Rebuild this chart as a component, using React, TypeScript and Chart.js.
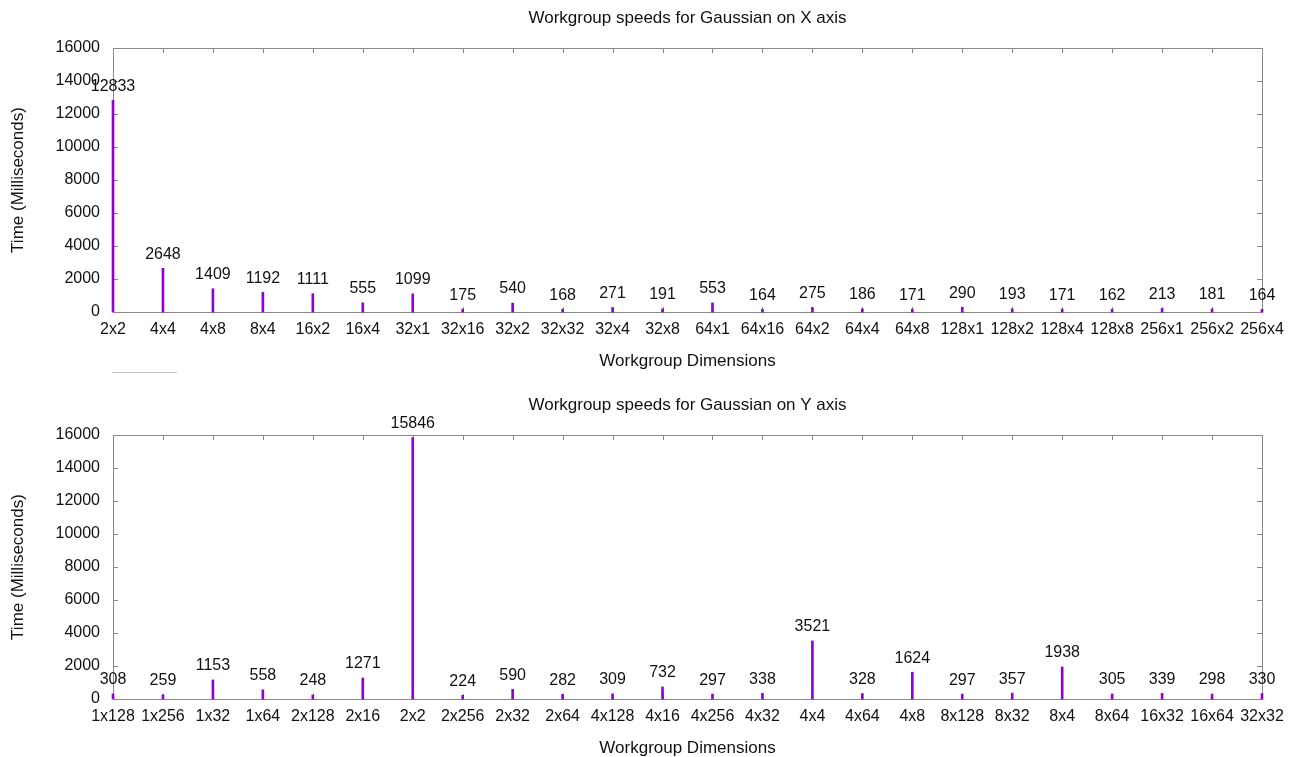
import React, { useEffect, useRef } from "react";
import { Chart, registerables } from "chart.js";

Chart.register(...registerables);

const xCategories = ["2x2", "4x4", "4x8", "8x4", "16x2", "16x4", "32x1", "32x16", "32x2", "32x32", "32x4", "32x8", "64x1", "64x16", "64x2", "64x4", "64x8", "128x1", "128x2", "128x4", "128x8", "256x1", "256x2", "256x4"];
const xTimes = [12833, 2648, 1409, 1192, 1111, 555, 1099, 175, 540, 168, 271, 191, 553, 164, 275, 186, 171, 290, 193, 171, 162, 213, 181, 164];

const yCategories = ["1x128", "1x256", "1x32", "1x64", "2x128", "2x16", "2x2", "2x256", "2x32", "2x64", "4x128", "4x16", "4x256", "4x32", "4x4", "4x64", "4x8", "8x128", "8x32", "8x4", "8x64", "16x32", "16x64", "32x32"];
const yTimes = [308, 259, 1153, 558, 248, 1271, 15846, 224, 590, 282, 309, 732, 297, 338, 3521, 328, 1624, 297, 357, 1938, 305, 339, 298, 330];

const yTickValues = [0, 2000, 4000, 6000, 8000, 10000, 12000, 14000, 16000];

const FONT = "'Liberation Sans', Arial, sans-serif";
const TEXT = "#111";
const BORDER = "#8a8a8a";
const BAR = "#9400d3";

const framePlugin = {
  id: "frame",
  beforeDatasetsDraw(chart: any) {
    const { ctx, chartArea } = chart;
    const { left, right, top, bottom } = chartArea;
    ctx.save();
    ctx.strokeStyle = BORDER;
    ctx.lineWidth = 1;
    ctx.strokeRect(left + 0.5, top + 0.5, right - left, bottom - top);
    const xs = chart.scales.x;
    const ys = chart.scales.y;
    ctx.beginPath();
    xs.ticks.forEach((_t: any, i: number) => {
      const px = Math.round(xs.getPixelForTick(i)) + 0.5;
      ctx.moveTo(px, top);
      ctx.lineTo(px, top + 5);
      ctx.moveTo(px, bottom);
      ctx.lineTo(px, bottom - 5);
    });
    ys.ticks.forEach((_t: any, i: number) => {
      const py = Math.round(ys.getPixelForTick(i)) + 0.5;
      ctx.moveTo(left, py);
      ctx.lineTo(left + 5, py);
      ctx.moveTo(right, py);
      ctx.lineTo(right - 5, py);
    });
    ctx.stroke();
    ctx.restore();
  },
};

const labelPlugin = {
  id: "valueLabels",
  afterDatasetsDraw(chart: any) {
    const { ctx } = chart;
    const meta = chart.getDatasetMeta(0);
    const data = chart.data.datasets[0].data as number[];
    ctx.save();
    ctx.font = `16px ${FONT}`;
    ctx.fillStyle = TEXT;
    ctx.textAlign = "center";
    ctx.textBaseline = "middle";
    meta.data.forEach((el: any, i: number) => {
      ctx.fillText(String(data[i]), el.x, el.y - 14);
    });
    ctx.restore();
  },
};

function GaussChart({ title, categories, values }: { title: string; categories: string[]; values: number[] }) {
  const ref = useRef<HTMLCanvasElement>(null);
  useEffect(() => {
    if (!ref.current) return;
    const chart = new Chart(ref.current, {
      type: "bar",
      data: {
        labels: categories,
        datasets: [
          {
            data: values,
            backgroundColor: BAR,
            borderWidth: 0,
            barThickness: 2,
            clip: false as any,
          },
        ],
      },
      options: {
        animation: false,
        responsive: false,
        maintainAspectRatio: false,
        layout: { padding: { top: 0, left: 0, right: 32, bottom: 0 } },
        plugins: {
          legend: { display: false },
          tooltip: { enabled: false },
          title: { display: false },
        },
        scales: {
          x: {
            type: "category",
            offset: false,
            grid: { display: false, offset: false, drawTicks: false },
            border: { display: false },
            ticks: {
              color: TEXT,
              font: { family: FONT, size: 16 },
              padding: 8,
              autoSkip: false,
              maxRotation: 0,
            },
            title: {
              display: true,
              text: "Workgroup Dimensions",
              color: TEXT,
              font: { family: FONT, size: 17 },
              padding: { top: 0, bottom: 8.8 },
            },
            afterFit(scale: any) {
              scale.height = 68;
            },
          },
          xTitle: {
            type: "category",
            position: "top",
            offset: false,
            grid: { display: false, drawTicks: false },
            border: { display: false },
            ticks: { display: false },
            title: {
              display: true,
              text: title,
              color: TEXT,
              font: { family: FONT, size: 17 },
              padding: { top: 7.8, bottom: 0 },
            },
            afterFit(scale: any) {
              scale.height = 48;
            },
          },
          y: {
            min: 0,
            max: 16000,
            afterBuildTicks(scale: any) {
              scale.ticks = yTickValues.map((v) => ({ value: v }));
            },
            grid: { display: false, drawTicks: false },
            border: { display: false },
            ticks: {
              color: TEXT,
              font: { family: FONT, size: 16 },
              padding: 13,
              callback: (v: any) => String(v),
            },
            title: {
              display: true,
              text: "Time (Milliseconds)",
              color: TEXT,
              font: { family: FONT, size: 17 },
              padding: { top: 8, bottom: 0 },
            },
            afterFit(scale: any) {
              scale.width = 113;
            },
          },
        },
      },
      plugins: [framePlugin, labelPlugin],
    });
    return () => chart.destroy();
  }, []);
  return <canvas ref={ref} width={1294} height={380} style={{ display: "block", width: 1294, height: 380 }} />;
}

export default function App() {
  return (
    <div style={{ position: "fixed", left: 0, top: 0, width: 1294, height: 757, overflow: "hidden", background: "#fff" }}>
      <div style={{ position: "absolute", left: 0, top: 0 }}>
        <GaussChart title="Workgroup speeds for Gaussian on X axis" categories={xCategories} values={xTimes} />
      </div>
      <div style={{ position: "absolute", left: 112, top: 372, width: 65, height: 1, background: "#c4c4c4" }} />
      <div style={{ position: "absolute", left: 0, top: 387 }}>
        <GaussChart title="Workgroup speeds for Gaussian on Y axis" categories={yCategories} values={yTimes} />
      </div>
    </div>
  );
}
